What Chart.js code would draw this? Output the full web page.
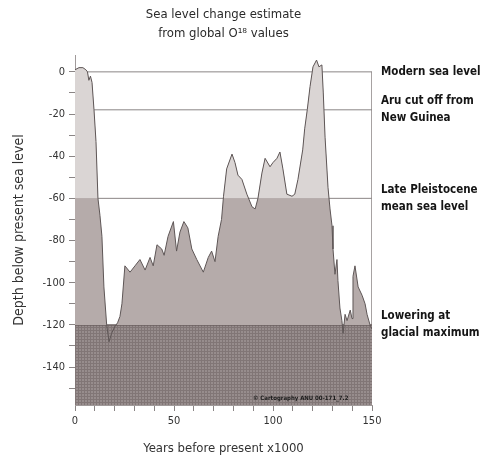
<!DOCTYPE html>
<html>
<head>
<meta charset="utf-8">
<script src="https://cdn.jsdelivr.net/npm/chart.js@4.4.1/dist/chart.umd.min.js"></script>
<style>
html, body { margin: 0; padding: 0; background: #fff; }
</style>
</head>
<body>
<canvas id="mycanvas" width="485" height="461"></canvas>
<script>
// years before present (x1000) and depth below present sea level (m)
var years = [0, 2, 4, 5.5, 6.3, 7, 7.8, 8.6, 9.6, 10.6, 11.6, 12.6, 13.6, 14.6, 16, 17.2, 18.5, 20, 21.5, 22.7,
  23.7, 25.2, 27.8, 30.3, 32.8, 35.4, 37.9, 39.5, 41.4, 43.8, 45, 47, 49.7, 51.3, 53, 55, 57, 59, 61.5, 64.8,
  67.3, 69, 70.7, 72.3, 74, 75, 76.6, 79.3, 80.8, 82.3, 84.3, 86.8, 89.4, 91, 92.4, 94.4, 96, 98.5, 100, 102,
  103.5, 105, 107, 109.6, 111, 112.6, 115, 116, 117.3, 118.7, 120.2, 122, 123.2, 124.7, 125.4, 126.3, 127.8,
  128.8, 129.8, 130.3, 131.3, 132.3, 132.8, 133.8, 134.8, 135.4, 136.4, 137.4, 139, 139.9, 140.4, 141.4, 143,
  145, 146.5, 147.5, 149, 150];
var depth = [1, 2, 2, 1, 0, -4, -2, -5, -18, -33, -60, -68, -78, -102, -120, -128, -124, -121, -119, -116,
  -110, -92, -95, -92, -89, -94, -88, -92, -82, -84, -87, -78, -71, -85, -76, -71, -74, -84, -89, -95,
  -88, -85, -90, -78, -70, -59, -46, -39, -43, -49, -51, -58, -64, -65, -60, -48, -41, -45, -43, -41,
  -38, -46, -58, -59, -58, -51, -37, -27, -18, -7, 2.4, 5.6, 2.4, 3.3, -10, -31, -55,
  -65, -73, -84, -96, -89, -99, -112, -118, -124, -115, -118, -113, -117, -97, -92, -102,
  -106, -110, -115, -120, -122];

var levels = [0, -18, -60, -120];
var levelNames = [
  ["Modern sea level"],
  ["Aru cut off from", "New Guinea"],
  ["Late Pleistocene", "mean sea level"],
  ["Lowering at", "glacial maximum"]
];
var yearTicks = [0, 10, 20, 30, 40, 50, 60, 70, 80, 90, 100, 110, 120, 130, 140, 150];
var depthTicks = [0, -10, -20, -30, -40, -50, -60, -70, -80, -90, -100, -110, -120, -130, -140, -150];

var fontFamily = "'DejaVu Sans Condensed', 'Liberation Sans', sans-serif";
Chart.defaults.font.family = fontFamily;
Chart.defaults.color = '#333';

var curve = [];
for (var i in years) {
  curve.push({x: years[i], y: depth[i]});
}
function flat(v) {
  return [{x: yearTicks[0], y: v}, {x: yearTicks[yearTicks.length - 1], y: v}];
}

// cross-hatched fill for the glacial maximum band
var pc = document.createElement('canvas');
pc.width = 3; pc.height = 3;
var pctx = pc.getContext('2d');
pctx.fillStyle = '#978d8d';
pctx.fillRect(0, 0, 3, 3);
pctx.fillStyle = '#817676';
pctx.fillRect(0, 0, 3, 1);
pctx.fillRect(0, 0, 1, 3);
var hatch = pctx.createPattern(pc, 'repeat');

var stamp = {
  id: 'stamp',
  afterDatasetsDraw: function(chart) {
    var ctx = chart.ctx;
    var x = chart.scales.x.getPixelForValue(114);
    var y = chart.scales.y.getPixelForValue(-155);
    ctx.save();
    ctx.font = 'bold 6px ' + fontFamily;
    ctx.fillStyle = '#1a1a1a';
    ctx.textAlign = 'center';
    ctx.textBaseline = 'middle';
    ctx.fillText('\u00a9 Cartography ANU 00-171_7.2', x, y);
    ctx.restore();
  }
};

var chartdata = {
  datasets: [
    {
      label: "sea level",
      data: curve,
      borderColor: "#5e5656",
      borderWidth: 1,
      backgroundColor: "#dad5d4",
      fill: {target: {value: -60}, above: "#dad5d4", below: "rgba(0,0,0,0)"},
      pointRadius: 0,
      tension: 0
    },
    {
      label: "sea level lower",
      data: curve,
      borderWidth: 0,
      borderColor: "rgba(0,0,0,0)",
      fill: {target: {value: -120}, above: "#b5abaa", below: "rgba(0,0,0,0)"},
      pointRadius: 0,
      tension: 0
    },
    {
      label: "glacial",
      data: flat(-120),
      borderColor: "#6b6161",
      borderWidth: 1.5,
      backgroundColor: hatch,
      fill: 'start',
      pointRadius: 0
    },
    {
      label: "mean",
      data: flat(-60),
      borderColor: "#7e7878",
      borderWidth: 1,
      fill: false,
      pointRadius: 0
    },
    {
      label: "aru",
      data: flat(-18),
      borderColor: "#8a8585",
      borderWidth: 1,
      fill: false,
      pointRadius: 0
    },
    {
      label: "modern",
      data: flat(0),
      borderColor: "#8a8585",
      borderWidth: 1,
      fill: false,
      pointRadius: 0
    },
    {
      label: "edge",
      data: [{x: 150, y: 0}, {x: 150, y: -158}],
      borderColor: "#9a9595",
      borderWidth: 1,
      fill: false,
      pointRadius: 0
    }
  ]
};

var ctx = document.getElementById('mycanvas');

var LineGraph = new Chart(ctx, {
  type: 'line',
  data: chartdata,
  plugins: [stamp],
  options: {
    responsive: false,
    animation: false,
    layout: {padding: 0},
    plugins: {
      legend: {display: false},
      tooltip: {enabled: false},
      title: {
        display: true,
        fullSize: false,
        text: ["Sea level change estimate", "from global O\u00b9\u2078 values"],
        color: '#2a2a2a',
        font: {size: 13, weight: 'normal', lineHeight: 1.4},
        padding: {top: 6, bottom: 12.6}
      }
    },
    scales: {
      x: {
        type: 'linear',
        min: 0,
        max: 150,
        afterBuildTicks: function(scale) {
          scale.ticks = yearTicks.map(function(v) { return {value: v}; });
        },
        afterFit: function(scale) { scale.height = 56; },
        grid: {display: true, drawOnChartArea: false, tickLength: 6, color: '#8a8585'},
        border: {display: true, color: '#a09a9a'},
        ticks: {
          autoSkip: false,
          maxRotation: 0,
          padding: 4,
          font: {size: 11},
          callback: function(v) { return v % 50 === 0 ? String(v) : ''; }
        },
        title: {
          display: true,
          text: "Years before present x1000",
          font: {size: 13},
          padding: {top: 4, bottom: 5}
        }
      },
      y: {
        type: 'linear',
        position: 'left',
        min: -158,
        max: 8,
        afterBuildTicks: function(scale) {
          scale.ticks = depthTicks.map(function(v) { return {value: v}; });
        },
        afterFit: function(scale) { scale.width = 75; },
        grid: {display: true, drawOnChartArea: false, tickLength: 6, color: '#8a8585'},
        border: {display: true, color: '#a09a9a'},
        ticks: {
          padding: 4,
          font: {size: 11},
          callback: function(v) { return v % 20 === 0 ? String(v) : ''; }
        },
        title: {
          display: true,
          text: "Depth below present sea level",
          font: {size: 14},
          padding: {top: 11, bottom: 0}
        }
      },
      yr: {
        type: 'linear',
        position: 'right',
        min: -158,
        max: 8,
        afterBuildTicks: function(scale) {
          scale.ticks = levels.map(function(v) { return {value: v}; });
        },
        afterFit: function(scale) { scale.width = 113; },
        grid: {display: false, drawTicks: false},
        border: {display: false},
        ticks: {
          padding: 9,
          color: '#151515',
          font: {size: 11.5, weight: 'bold', lineHeight: 1.5},
          callback: function(v) { return levelNames[levels.indexOf(v)]; }
        }
      }
    }
  }
});
</script>
</body>
</html>
